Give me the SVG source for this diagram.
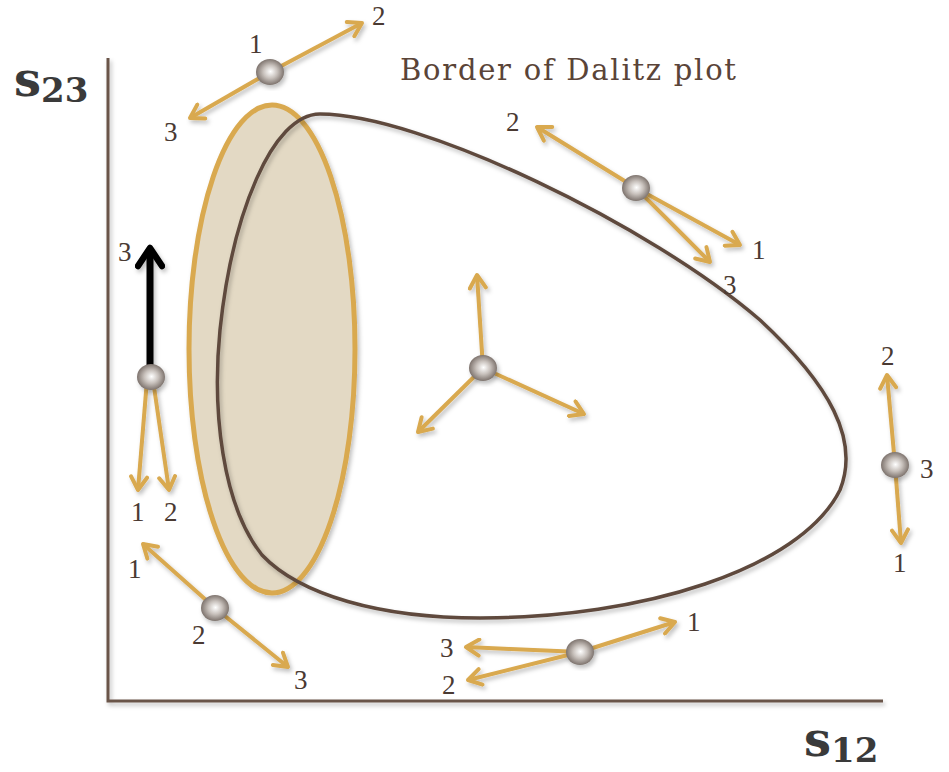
<svg xmlns="http://www.w3.org/2000/svg" width="949" height="772" viewBox="0 0 949 772">
<defs>
  <radialGradient id="ball" cx="0.5" cy="0.5" r="0.55" fx="0.52" fy="0.48">
    <stop offset="0" stop-color="#ffffff"/>
    <stop offset="0.45" stop-color="#c9c2bd"/>
    <stop offset="1" stop-color="#6f645e"/>
  </radialGradient>
  <filter id="sh" x="-20%" y="-20%" width="140%" height="140%">
    <feDropShadow dx="2" dy="3" stdDeviation="2" flood-color="#000" flood-opacity="0.25"/>
  </filter>
  <marker id="ah" viewBox="0 0 20 20" refX="17" refY="10" markerWidth="20" markerHeight="20" markerUnits="userSpaceOnUse" orient="auto">
    <path d="M4,2 L17,10 L4,18" fill="none" stroke="#d9a94f" stroke-width="4" stroke-linecap="round" stroke-linejoin="round"/>
  </marker>
  <marker id="ahk" viewBox="0 0 30 30" refX="26" refY="15" markerWidth="30" markerHeight="30" markerUnits="userSpaceOnUse" orient="auto">
    <path d="M8,3 L26,15 L8,27" fill="none" stroke="#000" stroke-width="6.5" stroke-linecap="round" stroke-linejoin="round"/>
  </marker>
</defs>
<style>
  .ax { stroke:#6a5548; stroke-width:3; fill:none; }
  .arr { stroke:#d9a94f; stroke-width:4; fill:none; marker-end:url(#ah); }
  .lbl { font-family:"Liberation Serif","DejaVu Serif",serif; font-size:27px; fill:#4a3a32; }
  .ball { fill:url(#ball); }
  .ax-lbl { font-family:"DejaVu Serif","Liberation Serif",serif; font-weight:bold; fill:#3a3a3a; }
</style>
<rect width="949" height="772" fill="#ffffff"/>

<g id="axes" filter="url(#sh)">
  <path class="ax" d="M108,58 L108,701 L883,701"/>
</g>
<g id="axis-labels">
  <text class="ax-lbl" x="14" y="96" font-size="48">s<tspan font-size="34" dy="6">23</tspan></text>
  <text class="ax-lbl" x="804" y="756" font-size="48">s<tspan font-size="34" dy="6">12</tspan></text>
</g>

<g id="resonance-band" filter="url(#sh)">
  <ellipse cx="272" cy="349" rx="83" ry="244" fill="#e3d9c4" stroke="#d9a94f" stroke-width="5"/>
</g>
<g id="dalitz-border" filter="url(#sh)">
  <path d="M320,114 C420,114 650,225 760,320 C830,385 860,440 840,490 C800,570 640,618 480,618 C380,618 300,595 262,555 C222,505 212,410 220,330 C232,215 272,114 320,114 Z" fill="none" stroke="#5e4a3e" stroke-width="3.5"/>
</g>
<g id="title">
  <text x="400" y="80" font-family="DejaVu Serif, Liberation Serif, serif" font-size="29" fill="#5a4438" textLength="336">Border of Dalitz plot</text>
</g>

<g id="connectors" filter="url(#sh)">
  <line class="arr" x1="270" y1="72" x2="362" y2="23"/>
  <line class="arr" x1="270" y1="72" x2="190" y2="118"/>
  <line class="arr" x1="636" y1="188" x2="537" y2="127"/>
  <line class="arr" x1="636" y1="188" x2="740" y2="245"/>
  <line class="arr" x1="636" y1="188" x2="710" y2="262"/>
  <line x1="150" y1="370" x2="150" y2="248" stroke="#000" stroke-width="7" marker-end="url(#ahk)"/>
  <line class="arr" x1="147" y1="380" x2="138" y2="490"/>
  <line class="arr" x1="153" y1="380" x2="169" y2="490"/>
  <line class="arr" x1="483" y1="368" x2="477" y2="275"/>
  <line class="arr" x1="483" y1="368" x2="418" y2="432"/>
  <line class="arr" x1="483" y1="368" x2="584" y2="414"/>
  <line class="arr" x1="895" y1="465" x2="887" y2="375"/>
  <line class="arr" x1="895" y1="465" x2="901" y2="543"/>
  <line class="arr" x1="215" y1="608" x2="143" y2="544"/>
  <line class="arr" x1="215" y1="608" x2="288" y2="667"/>
  <line class="arr" x1="580" y1="652" x2="675" y2="622"/>
  <line class="arr" x1="580" y1="652" x2="466" y2="647"/>
  <line class="arr" x1="580" y1="652" x2="468" y2="680"/>
</g>

<g id="p-top" filter="url(#sh)"><ellipse class="ball" cx="270" cy="72" rx="14" ry="13"/></g>
<g id="p-upper-right" filter="url(#sh)"><ellipse class="ball" cx="636" cy="188" rx="14" ry="13"/></g>
<g id="p-left" filter="url(#sh)"><ellipse class="ball" cx="151" cy="377" rx="14" ry="13"/></g>
<g id="p-center" filter="url(#sh)"><ellipse class="ball" cx="483" cy="368" rx="14" ry="13"/></g>
<g id="p-right" filter="url(#sh)"><ellipse class="ball" cx="895" cy="465" rx="14" ry="13"/></g>
<g id="p-bottom-left" filter="url(#sh)"><ellipse class="ball" cx="215" cy="608" rx="14" ry="13"/></g>
<g id="p-bottom" filter="url(#sh)"><ellipse class="ball" cx="580" cy="652" rx="14" ry="13"/></g>

<g id="labels">
  <text class="lbl" x="249" y="53">1</text>
  <text class="lbl" x="372" y="25">2</text>
  <text class="lbl" x="164" y="141">3</text>
  <text class="lbl" x="506" y="131">2</text>
  <text class="lbl" x="752" y="259">1</text>
  <text class="lbl" x="723" y="294">3</text>
  <text class="lbl" x="118" y="261">3</text>
  <text class="lbl" x="131" y="521">1</text>
  <text class="lbl" x="164" y="521">2</text>
  <text class="lbl" x="881" y="365">2</text>
  <text class="lbl" x="920" y="478">3</text>
  <text class="lbl" x="893" y="572">1</text>
  <text class="lbl" x="128" y="578">1</text>
  <text class="lbl" x="192" y="644">2</text>
  <text class="lbl" x="294" y="689">3</text>
  <text class="lbl" x="687" y="631">1</text>
  <text class="lbl" x="440" y="657">3</text>
  <text class="lbl" x="442" y="694">2</text>
</g>
</svg>
